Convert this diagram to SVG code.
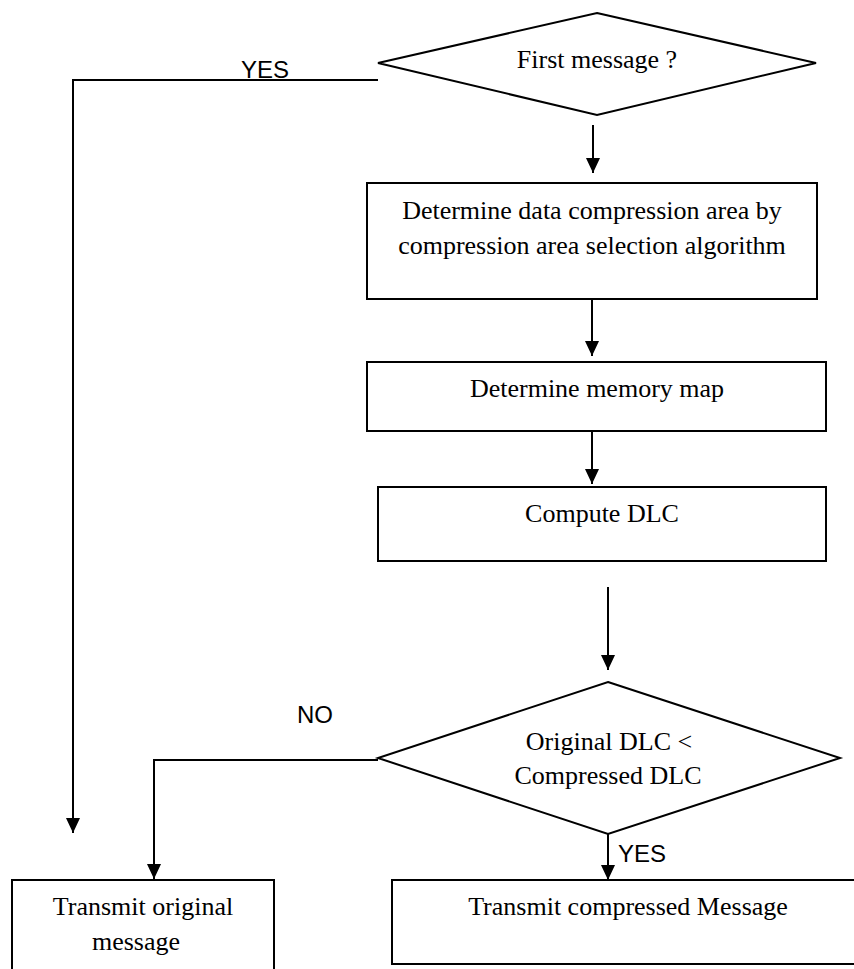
<svg xmlns="http://www.w3.org/2000/svg" width="854" height="969" viewBox="0 0 854 969">
<style>
.shape{fill:#fff;stroke:#000;stroke-width:2}
.conn{fill:none;stroke:#000;stroke-width:2}
.t{font-family:"Liberation Serif","Times New Roman",serif;font-size:26px;fill:#000;text-anchor:middle}
.lbl{font-family:"Liberation Sans",Arial,sans-serif;font-size:24px;fill:#000}
</style>
<defs>
<marker id="ah" markerUnits="userSpaceOnUse" markerWidth="16" markerHeight="16" viewBox="0 0 16 16" refX="15" refY="7" orient="auto">
<path d="M0,0 L15,7 L0,14 Z" fill="#000"/>
</marker>
</defs>
<rect width="854" height="969" fill="#fff"/>
<g id="connectors">
<path class="conn" d="M378,80 H73 V833" marker-end="url(#ah)"/>
<path class="conn" d="M593,125 V173" marker-end="url(#ah)"/>
<path class="conn" d="M592,299 V356" marker-end="url(#ah)"/>
<path class="conn" d="M592,426 V484" marker-end="url(#ah)"/>
<path class="conn" d="M608,587 V670" marker-end="url(#ah)"/>
<path class="conn" d="M378,760 H154 V879" marker-end="url(#ah)"/>
<path class="conn" d="M608,834 V880" marker-end="url(#ah)"/>
<text class="lbl" x="241" y="78">YES</text>
<text class="lbl" x="297" y="723">NO</text>
<text class="lbl" x="618" y="862">YES</text>
</g>
<g id="first-message">
<polygon class="shape" points="597,13 816,63 597,115 378,63"/>
<text class="t" x="597" y="68">First message ?</text>
</g>
<g id="determine-area">
<rect class="shape" x="367" y="183" width="450" height="116"/>
<text class="t" x="592" y="219">Determine data compression area by</text>
<text class="t" x="592" y="254">compression area selection algorithm</text>
</g>
<g id="memory-map">
<rect class="shape" x="367" y="362" width="459" height="69"/>
<text class="t" x="597" y="397">Determine memory map</text>
</g>
<g id="compute-dlc">
<rect class="shape" x="378" y="487" width="448" height="74"/>
<text class="t" x="602" y="522">Compute DLC</text>
</g>
<g id="compare-dlc">
<polygon class="shape" points="608,682 840,758 608,834 378,758"/>
<text class="t" x="609" y="750">Original DLC &lt;</text>
<text class="t" x="608" y="784">Compressed DLC</text>
</g>
<g id="transmit-original">
<rect class="shape" x="12" y="880" width="262" height="100"/>
<text class="t" x="143" y="915">Transmit original</text>
<text class="t" x="136" y="950">message</text>
</g>
<g id="transmit-compressed">
<rect class="shape" x="392" y="880" width="470" height="84"/>
<text class="t" x="628" y="915">Transmit compressed Message</text>
</g>
</svg>
